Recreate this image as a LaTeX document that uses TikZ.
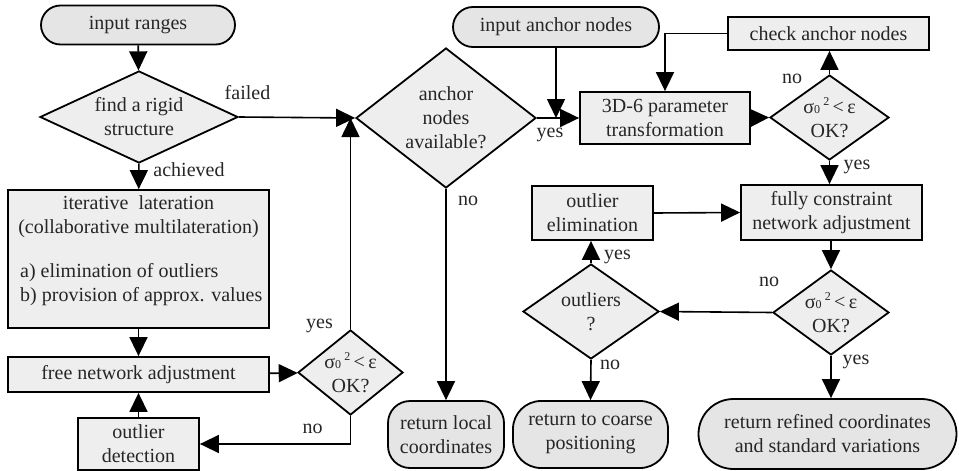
\documentclass[tikz,border=0pt]{standalone}
\usepackage{fontspec}
\setmainfont{Liberation Serif}
\usetikzlibrary{arrows.meta,shapes.geometric}
\newcommand\sigok{σ{\fontsize{12}{12}\selectfont 0}\,\raisebox{8.5pt}{\fontsize{12}{12}\selectfont 2}\,<\,ε\\OK?}
\begin{document}
\begin{tikzpicture}[x=1pt,y=-1pt,
  font=\fontsize{20}{24}\selectfont,
  every node/.style={text=black!85},
  box/.style={draw, line width=1.8pt, fill=gray!13, inner sep=0pt, align=center},
  term/.style={draw, line width=1.8pt, fill=gray!20, inner sep=0pt, align=center},
  dia/.style={draw, diamond, line width=1.8pt, fill=gray!13, inner sep=0pt},
  txt/.style={inner sep=0pt, align=center},
  arr/.style={line width=1.6pt, -{Triangle[length=19pt,width=18pt]}},
  lbl/.style={inner sep=0pt}]
\useasboundingbox (0,0) rectangle (959,471);

% left column
\node[term, rounded corners=19.5pt, minimum width=194pt, minimum height=39pt] (inr) at (138,25) {input ranges};
\node[dia, minimum width=198pt, minimum height=92pt] (d1) at (139,117) {};
\node[txt] at (d1) {find a rigid\\structure};
\node[box, minimum width=261pt, minimum height=138pt] (it) at (138.5,259) {};
\node[txt] at (138.5,216.5) {iterative\ \ lateration\\(collaborative multilateration)};
\node[txt, align=left, anchor=west] at (20,284.5) {a) elimination of outliers\\b) provision of approx. values};
\node[box, minimum width=261pt, minimum height=35pt] (fna) at (138.5,374.5) {free network adjustment};
\node[box, minimum width=121pt, minimum height=52pt] (od) at (138.5,444) {outlier\\detection};
\node[dia, minimum width=105pt, minimum height=85pt] (s1) at (350.5,372.5) {};
\node[txt] at (s1) {\sigok};

% middle
\node[dia, minimum width=180pt, minimum height=140pt] (anc) at (446,118) {};
\node[txt] at (anc) {anchor\\nodes\\available?};
\node[term, rounded corners=22pt, minimum width=116pt, minimum height=67pt] (rlc) at (446,434.5) {return local\\coordinates};

% right part
\node[term, rounded corners=20pt, minimum width=206pt, minimum height=40pt] (ian) at (556,27) {input anchor nodes};
\node[box, minimum width=170pt, minimum height=52pt] (t3d) at (665,118) {3D-6 parameter\\transformation};
\node[box, minimum width=201pt, minimum height=33pt] (can) at (828.5,33.5) {check anchor nodes};
\node[dia, minimum width=119pt, minimum height=85pt] (s2) at (829.5,117.5) {};
\node[txt] at (s2) {\sigok};
\node[box, minimum width=181pt, minimum height=55pt] (fca) at (831.5,212.5) {fully constraint\\network adjustment};
\node[box, minimum width=121pt, minimum height=54pt] (oe) at (592.5,213) {outlier\\elimination};
\node[dia, minimum width=116pt, minimum height=85pt] (s3) at (831,312.5) {};
\node[txt] at (s3) {\sigok};
\node[dia, minimum width=136pt, minimum height=95pt] (ol) at (591,311.5) {};
\node[txt] at (ol) {outliers\\?};
\node[term, rounded corners=28pt, minimum width=155pt, minimum height=67pt] (rcp) at (590.5,434.5) {return to coarse\\positioning};
\node[term, rounded corners=35pt, minimum width=258pt, minimum height=70pt] (rrc) at (827.5,434) {return refined coordinates\\and standard variations};

% connectors
\draw[arr] (inr) -- (d1);
\draw[arr] (d1.east) -- (anc.west);
\node[lbl] at (247.5,93) {failed};
\draw[arr] (d1) -- (it);
\node[lbl] at (189,170) {achieved};
\draw[arr] (it) -- (fna);
\draw[arr] (fna) -- (s1);
\draw[arr] (s1.north) -- (s1.north |- anc.west);
\node[lbl] at (319.5,326) {yes};
\draw[arr] (s1.south) |- (od.east);
\node[lbl] at (312.5,429) {no};
\draw[arr] (od) -- (fna);
\draw[arr] (anc.south) -- (rlc.north);
\node[lbl] at (468,201) {no};
\draw[arr] (anc.east) -- (t3d.west);
\node[lbl] at (550,135) {yes};
\draw[arr] (ian.south) -- (ian.south |- anc.east);
\draw[arr] (can.west) -| (t3d.north);
\draw[arr] (t3d.east) -- (s2.west);
\draw[arr] (s2.north) -- (s2.north |- can.south);
\node[lbl] at (792,79) {no};
\draw[arr] (s2.south) -- (s2.south |- fca.north);
\node[lbl] at (857,167) {yes};
\draw[arr] (oe.east) -- (fca.west);
\draw[arr] (s3.north |- fca.south) -- (s3.north);
\draw[arr] (s3.west) -- (ol.east);
\node[lbl] at (769,282) {no};
\draw[arr] (ol.north) -- (ol.north |- oe.south);
\node[lbl] at (617.5,257) {yes};
\draw[arr] (ol.south) -- (rcp.north);
\node[lbl] at (610,365) {no};
\draw[arr] (s3.south) -- (s3.south |- rrc.north);
\node[lbl] at (856,362) {yes};
\end{tikzpicture}
\end{document}
